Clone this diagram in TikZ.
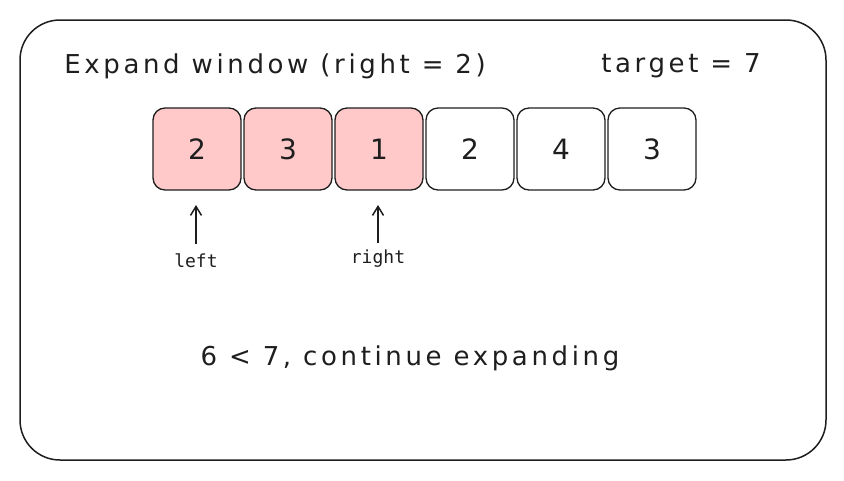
\documentclass[tikz,border=0pt]{standalone}
\usetikzlibrary{arrows.meta}
\usepackage{fontspec}
\setmainfont{DejaVu Sans}
\newfontfamily\monof{DejaVu Sans Mono}
\newfontfamily\wide[LetterSpace=14]{DejaVu Sans}
\definecolor{pinkf}{HTML}{FFC9C9}
\definecolor{ink}{HTML}{1E1E1E}
\begin{document}
\begin{tikzpicture}[x=1pt,y=-1pt,
  cell/.style={draw=ink,line width=1.3pt,rounded corners=12pt,minimum width=88pt,minimum height=82pt,inner sep=0pt,font=\fontsize{28}{28}\selectfont,text=ink},
  hot/.style={cell,fill=pinkf},
  lbl/.style={font=\monof\fontsize{18}{18}\selectfont,text=ink},
  big/.style={font=\wide\fontsize{26}{26}\selectfont,text=ink,inner sep=0pt}]
\useasboundingbox (0,0) rectangle (844,480);
\draw[ink,line width=1.5pt,rounded corners=40pt] (20,20) rectangle (826,460);
\node[big] (title) at (275,66) {Expand window (right = 2)};
\node[big] (tgt) at (681,66) {target = 7};
\node[hot] (c1) at (197,149) {2};
\node[hot] (c2) at (288,149) {3};
\node[hot] (c3) at (379,149) {1};
\node[cell] (c4) at (470,149) {2};
\node[cell] (c5) at (561,149) {4};
\node[cell] (c6) at (652,149) {3};
\node[lbl] (l) at (196,261) {left};
\node[lbl] (r) at (378,259) {right};
\draw[ink,line width=1.5pt,-{Straight Barb[length=9pt,width=11pt]}] (l.north) ++(0,-6) -- (196,205);
\draw[ink,line width=1.5pt,-{Straight Barb[length=9pt,width=11pt]}] (r.north) ++(0,-4) -- (378,205);
\node[big] (msg) at (410,358) {6 < 7, continue expanding};
\end{tikzpicture}
\end{document}
